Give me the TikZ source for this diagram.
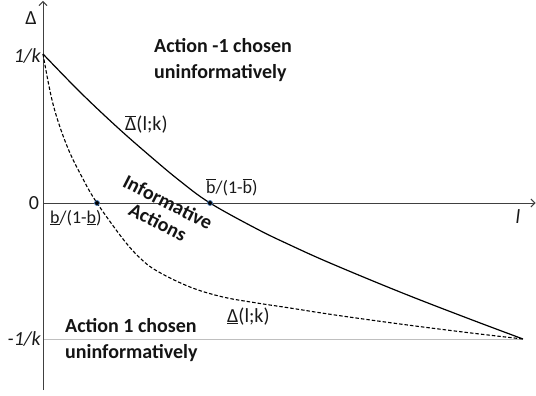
\documentclass[tikz,border=0pt]{standalone}
\usepackage{fontspec}
\setmainfont{Carlito}
\usetikzlibrary{arrows.meta}
\newcommand{\obar}[1]{\ensuremath{\overline{\hbox{#1}}}}
\newcommand{\ubar}[1]{\ensuremath{\underline{\hbox{#1}}}}
\begin{document}
\begin{tikzpicture}[x=1pt,y=-1pt,
  axis/.style={draw=black!75, line width=0.9pt, -{Straight Barb[length=4pt,width=8pt]}},
  curve/.style={line width=1.2pt, draw=black},
  dcurve/.style={line width=1.1pt, draw=black, dash pattern=on 3.5pt off 2pt},
  lbl/.style={font=\fontsize{20}{24}\selectfont, text=black!90, inner sep=0pt},
  slbl/.style={font=\fontsize{18}{22}\selectfont, text=black!90, inner sep=0pt},
  bold/.style={font=\fontsize{20}{25.5}\selectfont\bfseries, text=black!92, inner sep=0pt, align=left},
  dot/.style={circle, fill=black, draw={rgb,255:red,70;green,120;blue,180}, line width=0.7pt, minimum size=5pt, inner sep=0pt}
]
\useasboundingbox (0,0) rectangle (536,396);

% axes
\coordinate (ybot) at (43,390);
\coordinate (ytop) at (43,1);
\coordinate (xl) at (43,203);
\coordinate (xr) at (535.5,203);
\coordinate (mstart) at (43,339);
\coordinate (pend) at (523,339);
\coordinate (pstart) at (43,54);

\draw[draw=black!25, line width=0.9pt] (mstart) -- (pend);
\draw[axis] (ybot) -- (ytop);
\draw[axis] (xl) -- (xr);

% curves
\draw[curve] plot[smooth, tension=0.6] coordinates {(43,54) (80,92) (117,127) (150,156) (180,181) (210,203) (257,229) (290,245) (330,263) (400,292) (467,318) (523,339)};
\draw[dcurve] plot[smooth, tension=0.6] coordinates {(43,54) (53,104) (67,146) (83,179) (97,203) (123,239) (140,258) (157,271) (190,287) (223,297) (257,303) (290,308) (333,314.7) (400,324) (467,332.5) (523,339)};

% dots
\node[dot] (dlow) at (97,203) {};
\node[dot] (dhigh) at (210,203) {};

% axis labels
\node[lbl] (delta) at (31,18) {Δ};
\node[lbl, anchor=east] (onek) at (41,56) {\itshape 1/k};
\node[lbl] (zero) at (34,203) {0};
\node[lbl, anchor=east] (monek) at (41,339) {\itshape -1/k};
\node[lbl] (ell) at (518,217) {\itshape l};

% curve labels
\node[lbl, anchor=base west] (dbar) at (125,130) {\obar{Δ}(l;k)};
\node[lbl, anchor=base west] (dund) at (227,322) {\ubar{Δ}(l;k)};
\node[slbl, anchor=base west] (bhigh) at (206,193) {\obar{b}/(1-\obar{b})};
\node[slbl, anchor=base west] (blow) at (50,223) {\ubar{b}/(1-\ubar{b})};

% region labels
\node[bold, anchor=base west] (topreg) at (154,78) {Action -1 chosen\\uninformatively};
\node[bold, anchor=base west] (botreg) at (65,358) {Action 1 chosen\\uninformatively};
\node[font=\fontsize{20}{22}\selectfont\bfseries, text=black!92, inner sep=0pt, align=center, rotate=-27] (info) at (163,212) {Informative\\Actions};
\end{tikzpicture}
\end{document}
